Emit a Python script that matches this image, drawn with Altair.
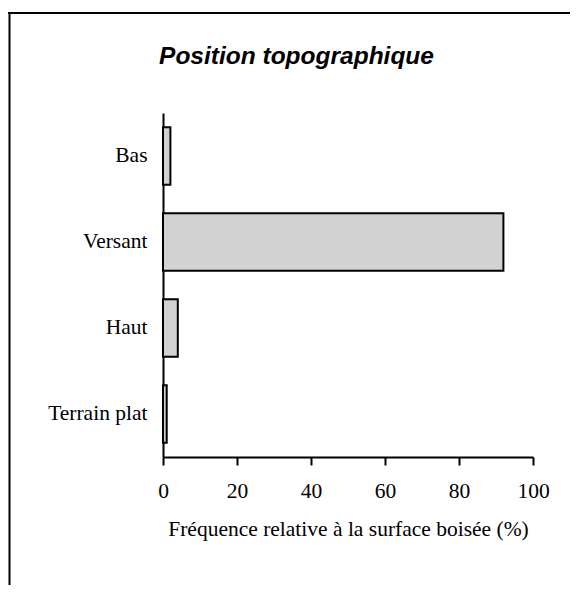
import altair as alt
import pandas as pd

categories = ["Bas", "Versant", "Haut", "Terrain plat"]
values = [2, 92, 4, 1]
x_ticks = [0, 20, 40, 60, 80, 100]
title_text = "Position topographique"

df = pd.DataFrame({"position": categories, "freq": values})

SERIF = "Liberation Serif"

bars = alt.Chart(df).mark_bar(
    fill="#d2d2d2", stroke="black", strokeWidth=2
).encode(
    x=alt.X("freq:Q",
            scale=alt.Scale(domain=[0, 100], nice=False),
            axis=alt.Axis(values=x_ticks, title="Fréquence relative à la surface boisée (%)",
                          tickSize=8, tickWidth=2, tickColor="black",
                          labelFont=SERIF, labelFontSize=21.5, labelColor="black",
                          labelFlush=False, labelOverlap=False,
                          titleFont=SERIF, titleFontSize=21.5, titleColor="black",
                          titleFontWeight="normal",
                          labelPadding=15, titlePadding=17)),
    y=alt.Y("position:N", sort=categories,
            scale=alt.Scale(paddingInner=0.33, paddingOuter=0.165),
            axis=alt.Axis(title=None, ticks=False, tickSize=0, labelPadding=16,
                          labelFont=SERIF, labelFontSize=21.5, labelColor="black")),
)

frame_data = alt.Data(values=[{"k": 1}])
top_line = alt.Chart(frame_data).mark_rule(color="black", strokeWidth=2).encode(
    x=alt.value(-155), x2=alt.value(407), y=alt.value(-100)
)
left_line = alt.Chart(frame_data).mark_rule(color="black", strokeWidth=2).encode(
    x=alt.value(-153.5), y=alt.value(-101), y2=alt.value(472)
)
title = alt.Chart(frame_data).mark_text(
    font="Liberation Sans", fontSize=24.5, fontWeight="bold", fontStyle="italic",
    color="black", align="center", baseline="alphabetic"
).encode(
    text=alt.value(title_text), x=alt.value(133.5), y=alt.value(-49)
)

chart = alt.layer(bars, top_line, left_line, title).properties(
    width=370,
    height=344,
    autosize=alt.AutoSizeParams(type="none"),
    padding={"left": 155, "top": 105, "right": 37, "bottom": 128},
).configure_view(stroke=None).configure_axis(
    domainColor="black", domainWidth=2, grid=False,
)

chart.save("out.html", embed_options={"renderer": "svg", "actions": False})
